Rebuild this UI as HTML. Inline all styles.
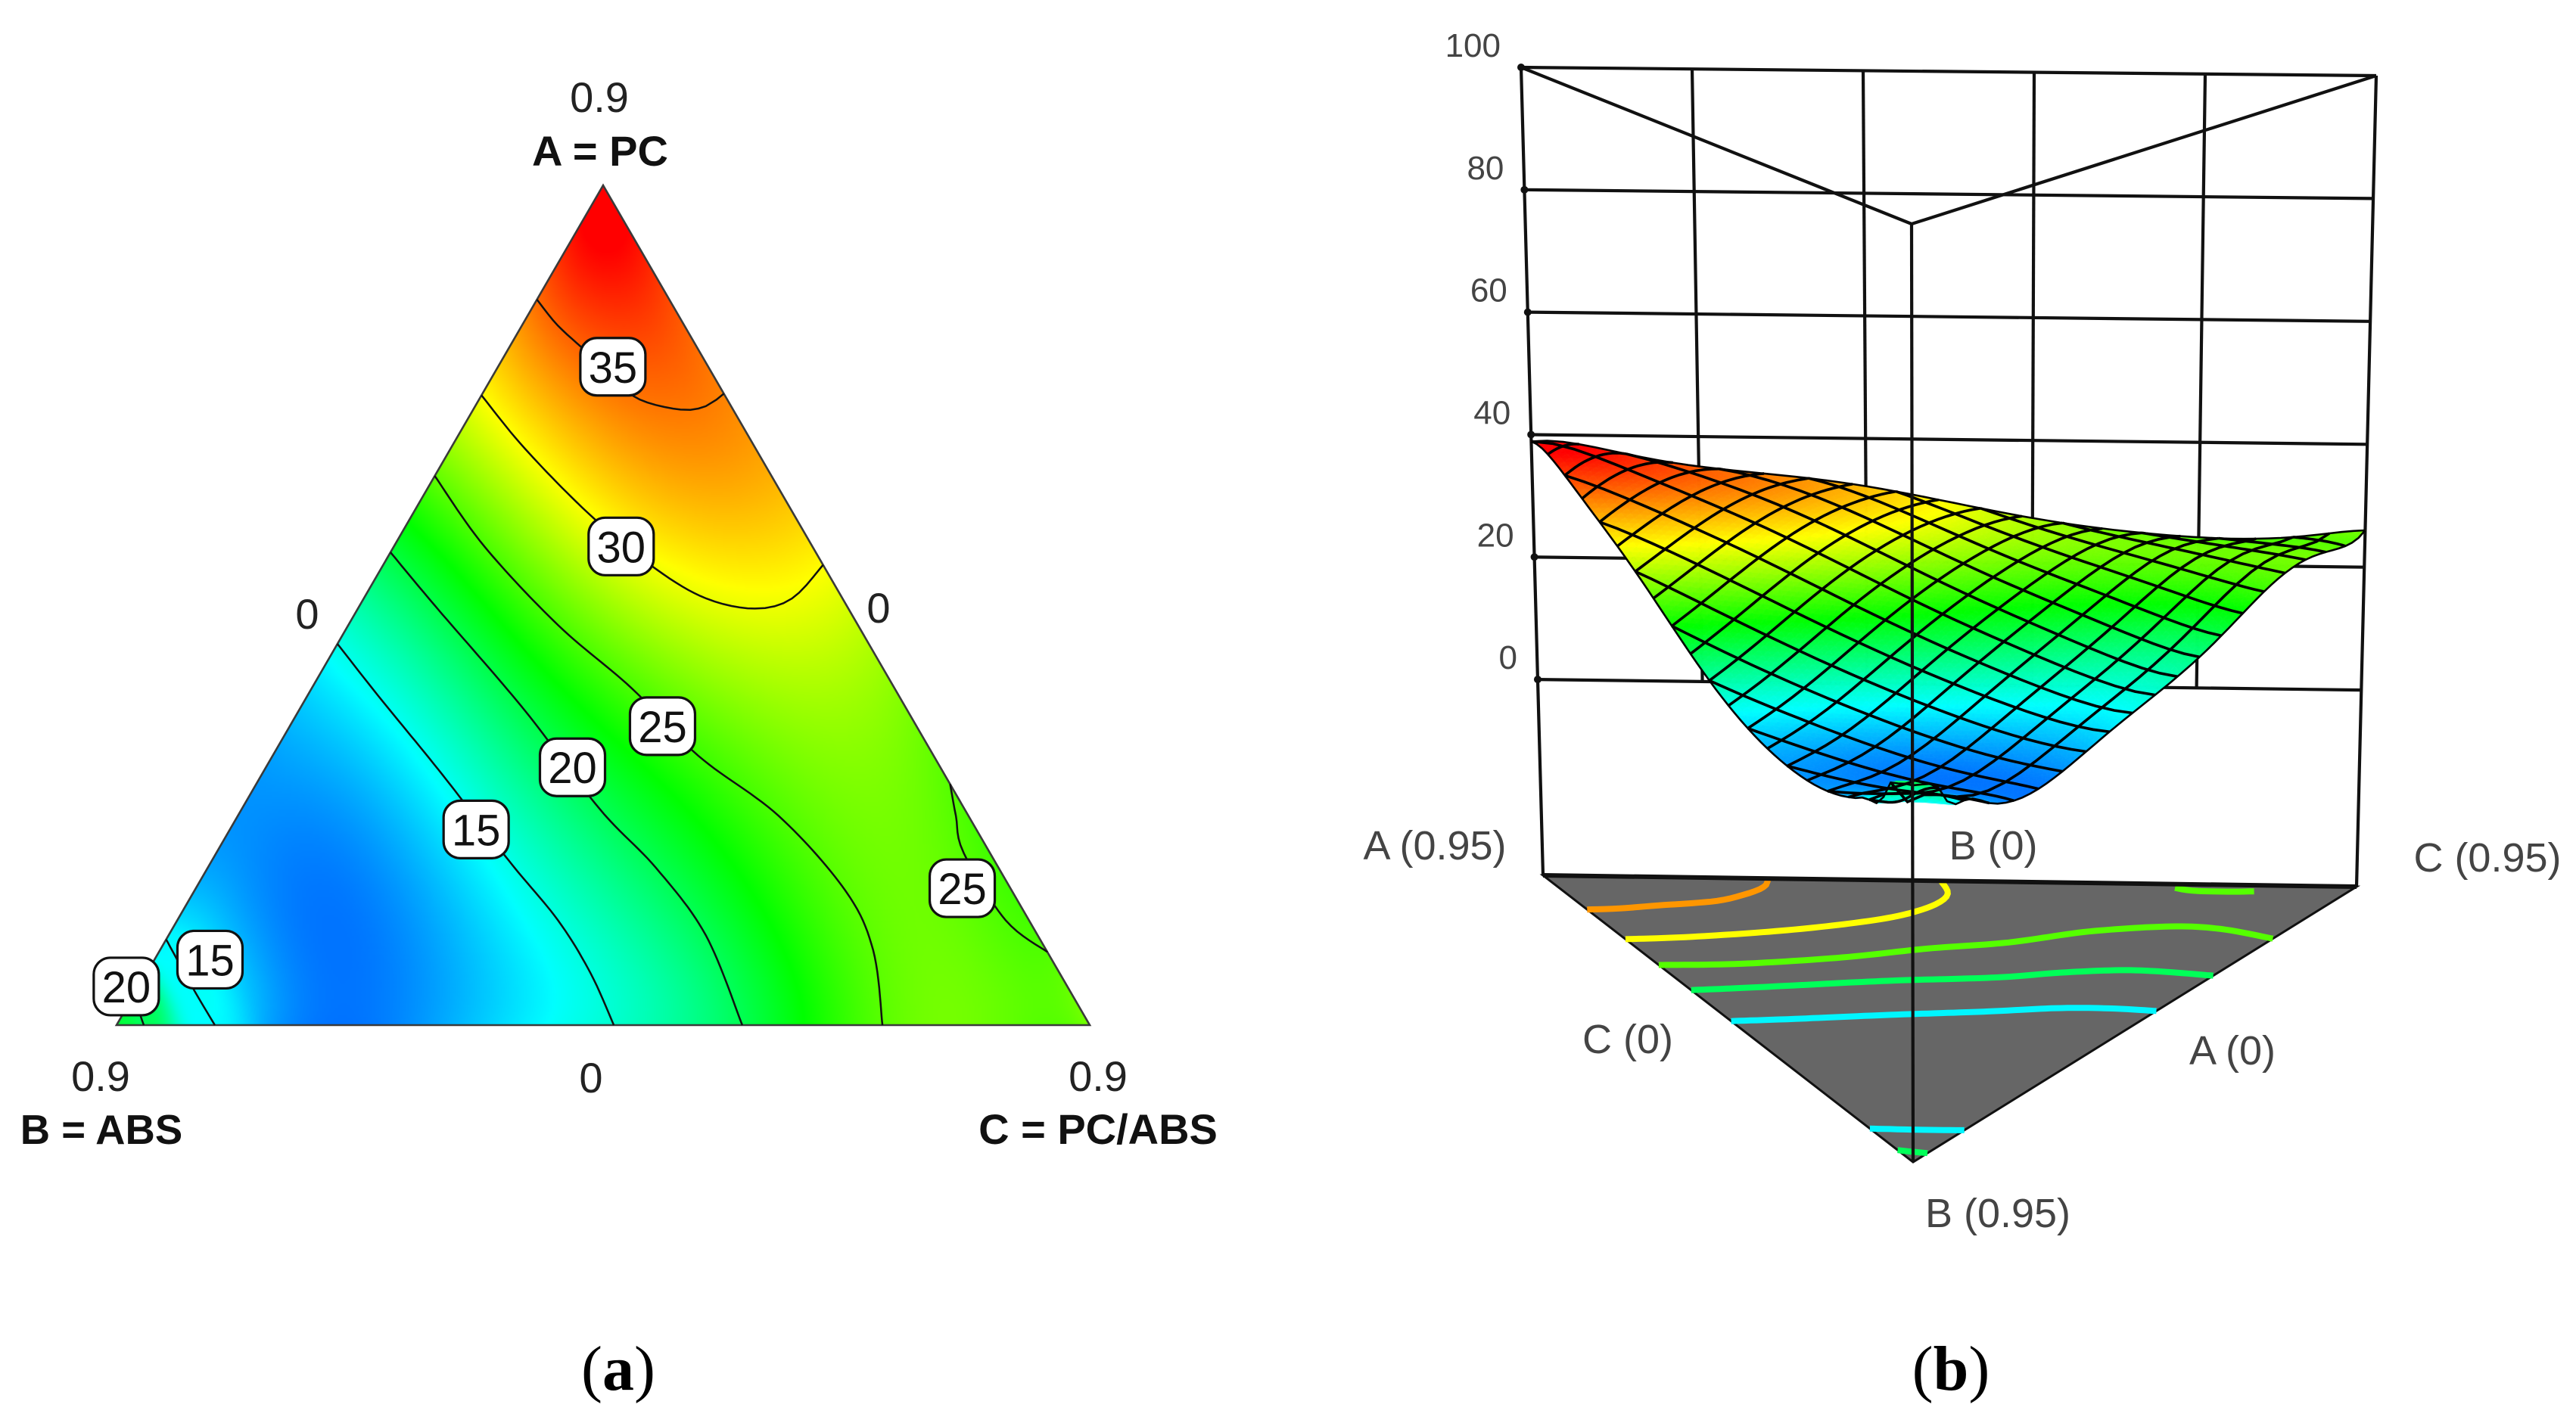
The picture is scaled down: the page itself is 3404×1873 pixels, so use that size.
<!DOCTYPE html>
<html lang="en">
<head>
<meta charset="utf-8">
<title>Ternary contour plot and 3D response surface</title>
<style>
  html,body{margin:0;padding:0;background:#fff;}
  #page{position:relative;width:3404px;height:1873px;background:#fff;overflow:hidden;font-family:"Liberation Sans",sans-serif;}
  #page>svg,#page>canvas{position:absolute;left:0;top:0;}
</style>
</head>
<body>
<div id="page">
  <svg id="back" width="3404" height="1873"></svg>
  <canvas id="paint" width="3404" height="1873"></canvas>
  <svg id="front" width="3404" height="1873"></svg>
</div>
<script>
// Contour levels and traces, as [A share, C share] of the ternary axes (B = 1 - A - C)
const contourLevels = [35, 30, 25, 20, 15, 15, 20, 25];
const contour35 = [[.864,0],[.833,.037],[.801,.083],[.770,.125],[.745,.165],[.733,.213],[.737,.237],[.752,.248]];
const contour30 = [[.750,0],[.686,.077],[.606,.185],[.543,.283],[.508,.352],[.496,.408],[.508,.440],[.548,.452]];
const contour25 = [[.654,0],[.570,.093],[.476,.216],[.401,.329],[.321,.437],[.249,.556],[.160,.669],[.089,.733],[0,.787]];
const contour20 = [[.563,0],[.499,.078],[.374,.233],[.258,.367],[.187,.461],[.107,.552],[0,.643]];
const contour15 = [[.454,0],[.392,.073],[.298,.186],[.196,.305],[.125,.391],[.062,.456],[0,.511]];
const contour15Corner = [[.102,0],[.0445,.056],[0,.101]];
const contour20Corner = [[.036,0],[.02,.012],[0,.028]];
const contour25Side = [[.287,.713],[.249,.738],[.205,.768],[.125,.851],[.087,.913]];
const contourTraces = [contour35, contour30, contour25, contour20, contour15, contour15Corner, contour20Corner, contour25Side];

// Read response values away from contours, as [A share, C share, response]
const troughFloor = [[.307,.009,12],[.214,.098,10.8],[.107,.190,10.1],[0,.2766,10.1]];
const troughEdge = [[.307,.009,12],[.205,.005,12.4],[.14,.002,14]];
const ridgeRight = [[.401,.523,27.5],[.285,.657,26.4],[.151,.757,26],[0,.867,25.8]];
const sliverRight = [[.25,.75,24.6],[.196,.804,24],[.13,.87,24.4]];
const cornerC = [[.06,.94,25.4],[0,1,25.5]];
const cornerB = [[.02,0,20.6],[0,0,21],[0,.012,20.6]];
const peakA = [[1,0,39],[.9,.05,38.5],[.82,.12,36.5]];
const orangeBand = [[.72,.12,33.5],[.641,.302,33],[.6,.38,32]];
const responseGuides = [troughFloor, troughEdge, ridgeRight, sliverRight, cornerC, cornerB, peakA, orangeBand];

// Colour scale
const scaleValues = [8, 15.25, 22.5, 30, 38.5];
const scaleColors = [[0,0,255],[0,255,255],[0,255,0],[255,255,0],[255,0,0]];

// Contour label tags: printed text and [A share, C share]
const tagTexts = ["35","30","25","20","15","25","15","20"];
const tagSpots = [[.784,.118],[.570,.2335],[.356,.383],[.307,.315],[.233,.253],[.163,.7875],[.078,.057],[.046,-.013]];

// Surface plot axis
const zTicks = [0,20,40,60,80,100];
const wallDivisions = [.2,.4,.6,.8];
const meshDivisions = 20;

// ---------- scales ----------
const TRI = {ax:797, ay:245, lx:154, rx:1440, by:1355};
function triX(a,c){ return TRI.lx + a*(TRI.ax-TRI.lx) + c*(TRI.rx-TRI.lx); }
function triY(a){ return TRI.by - a*(TRI.by-TRI.ay); }

const BOX = {
  floorA:[2039,1157], floorB:[2528,1536], floorC:[3114,1172],
  topA:[2010,89], topB:[2526,296], topC:[3140,100],
  wB:0.86, zFloor:-32, zTop:100, skew:0.15
};
function project(a0,c0,z,plain){
  const d=plain?0:BOX.skew*a0*c0;
  const a=a0-d, c=c0+d;
  const b = 1-a-c;
  const wa=a, wb=b*BOX.wB, wc=c, s=wa+wb+wc;
  const fx=(wa*BOX.floorA[0]+wb*BOX.floorB[0]+wc*BOX.floorC[0])/s;
  const fy=(wa*BOX.floorA[1]+wb*BOX.floorB[1]+wc*BOX.floorC[1])/s;
  const tx=(wa*BOX.topA[0]+wb*BOX.topB[0]+wc*BOX.topC[0])/s;
  const ty=(wa*BOX.topA[1]+wb*BOX.topB[1]+wc*BOX.topC[1])/s;
  const t=(z-BOX.zFloor)/(BOX.zTop-BOX.zFloor);
  return [fx+(tx-fx)*t, fy+(ty-fy)*t];
}
function colorOf(v){
  const s=scaleValues, k=scaleColors;
  if(v<=s[0]) return k[0];
  for(let i=1;i<s.length;i++){
    if(v<=s[i]){
      const t=(v-s[i-1])/(s[i]-s[i-1]);
      return [0,1,2].map(n=>Math.round(k[i-1][n]+(k[i][n]-k[i-1][n])*t));
    }
  }
  return k[k.length-1];
}
function cssColor(c){ return "rgb("+c[0]+","+c[1]+","+c[2]+")"; }

// ---------- field built from the read traces ----------
function dense(points, spacing){
  const out=[];
  const n=points.length;
  if(n===1){ out.push(points[0].slice()); return out; }
  for(let i=0;i<n-1;i++){
    const p0=points[Math.max(i-1,0)],p1=points[i],p2=points[i+1],p3=points[Math.min(i+2,n-1)];
    const len=Math.hypot(p2[0]-p1[0],p2[1]-p1[1]);
    const steps=Math.max(1,Math.ceil(len/spacing));
    for(let s=0;s<steps;s++){
      const t=s/steps,t2=t*t,t3=t2*t;
      out.push(p1.map((_,d)=>0.5*(2*p1[d]+(p2[d]-p0[d])*t+(2*p0[d]-5*p1[d]+4*p2[d]-p3[d])*t2+(3*p1[d]-p0[d]-3*p2[d]+p3[d])*t3)));
    }
  }
  out.push(points[n-1].slice());
  return out;
}
const fieldPts=[];
contourTraces.forEach(function(tr,i){
  dense(tr,0.014).forEach(function(p){ fieldPts.push([p[0],p[1],contourLevels[i]]); });
});
responseGuides.forEach(function(tr){
  dense(tr,0.014).forEach(function(p){ fieldPts.push(p); });
});
const FN=fieldPts.length;
const FX=new Float64Array(FN),FY=new Float64Array(FN),FV=new Float64Array(FN);
fieldPts.forEach(function(p,i){ FX[i]=p[1]+p[0]/2; FY[i]=p[0]*0.866; FV[i]=p[2]; });
function rawField(a,c){
  const x=c+a/2,y=a*0.866;
  let sw=0,sv=0;
  for(let i=0;i<FN;i++){
    const dx=x-FX[i],dy=y-FY[i],d2=dx*dx+dy*dy;
    if(d2<1e-8) return FV[i];
    const w=1/(d2*Math.sqrt(d2));
    sw+=w; sv+=w*FV[i];
  }
  return sv/sw;
}
// Least-squares polynomial over the triangle, the smooth model surface
const DEG=8;
const NT=(DEG+1)*(DEG+2)/2;
const txb=new Float64Array(DEG+1),tyb=new Float64Array(DEG+1);
function basis(a,c,out){
  const x=2*a-1,y=2*c-1;
  txb[0]=1;txb[1]=x;tyb[0]=1;tyb[1]=y;
  for(let n=2;n<=DEG;n++){ txb[n]=2*x*txb[n-1]-txb[n-2]; tyb[n]=2*y*tyb[n-1]-tyb[n-2]; }
  let k=0;
  for(let i=0;i<=DEG;i++){ for(let j=0;j<=DEG-i;j++){ out[k++]=txb[i]*tyb[j]; } }
}
const coef=(function(){
  const M=[];
  for(let i=0;i<NT;i++){ M[i]=new Float64Array(NT+1); }
  const phi=new Float64Array(NT);
  const G=48;
  for(let i=0;i<=G;i++){
    for(let j=0;j<=G-i;j++){
      const a=i/G,c=j/G,v=rawField(a,c);
      basis(a,c,phi);
      for(let r=0;r<NT;r++){
        const pr=phi[r],row=M[r];
        for(let q=0;q<NT;q++){ row[q]+=pr*phi[q]; }
        row[NT]+=pr*v;
      }
    }
  }
  for(let r=0;r<NT;r++){ M[r][r]+=1e-4; }
  for(let p=0;p<NT;p++){
    let best=p;
    for(let r=p+1;r<NT;r++){ if(Math.abs(M[r][p])>Math.abs(M[best][p])) best=r; }
    const tmp=M[p];M[p]=M[best];M[best]=tmp;
    for(let r=p+1;r<NT;r++){
      const f=M[r][p]/M[p][p];
      if(f!==0){ for(let q=p;q<=NT;q++){ M[r][q]-=f*M[p][q]; } }
    }
  }
  const x=new Float64Array(NT);
  for(let r=NT-1;r>=0;r--){
    let s=M[r][NT];
    for(let q=r+1;q<NT;q++){ s-=M[r][q]*x[q]; }
    x[r]=s/M[r][r];
  }
  return x;
})();
const phiEval=new Float64Array(NT);
function field(a,c){
  basis(a,c,phiEval);
  let s=0;
  for(let k=0;k<NT;k++){ s+=coef[k]*phiEval[k]; }
  const b=1-a-c;
  if(b<=.84) return s;
  let t=Math.min(1,(b-.84)/.09);
  t=t*t*(3-2*t);
  return s+(rawField(a,c)-s)*t;
}

// ---------- paint: ternary heatmap ----------
const paint=document.getElementById("paint").getContext("2d");
(function(){
  const step=3;
  const x0=TRI.lx-6,y0=TRI.ay-6;
  const w=Math.ceil((TRI.rx-TRI.lx+12)/step),h=Math.ceil((TRI.by-TRI.ay+12)/step);
  const off=document.createElement("canvas");
  off.width=w;off.height=h;
  const oc=off.getContext("2d");
  const img=oc.createImageData(w,h);
  for(let j=0;j<h;j++){
    const py=y0+(j+.5)*step;
    const a=(TRI.by-py)/(TRI.by-TRI.ay);
    for(let i=0;i<w;i++){
      const px=x0+(i+.5)*step;
      const c=(px-TRI.lx-a*(TRI.ax-TRI.lx))/(TRI.rx-TRI.lx);
      if(a<-.02||c<-.02||a+c>1.02) continue;
      const col=colorOf(field(a,c));
      const k=(j*w+i)*4;
      img.data[k]=col[0];img.data[k+1]=col[1];img.data[k+2]=col[2];img.data[k+3]=255;
    }
  }
  oc.putImageData(img,0,0);
  paint.save();
  paint.beginPath();
  paint.moveTo(TRI.ax,TRI.ay);paint.lineTo(TRI.rx,TRI.by);paint.lineTo(TRI.lx,TRI.by);paint.closePath();
  paint.clip();
  paint.imageSmoothingEnabled=true;
  paint.drawImage(off,x0,y0,w*step,h*step);
  paint.restore();
})();

// ---------- paint: 3D surface ----------
const T=100;
const heights=[];
for(let i=0;i<=T;i++){
  heights[i]=[];
  for(let j=0;j<=T-i;j++){ heights[i][j]=field(i/T,j/T); }
}
function fillTri(p,q,r,v){
  const col=cssColor(colorOf(v));
  paint.fillStyle=col;paint.strokeStyle=col;paint.lineWidth=1;
  paint.beginPath();paint.moveTo(p[0],p[1]);paint.lineTo(q[0],q[1]);paint.lineTo(r[0],r[1]);paint.closePath();
  paint.fill();paint.stroke();
}
for(let sum=T;sum>=0;sum--){
  for(let i=0;i<=sum;i++){
    const j=sum-i;
    if(i+j+1<=T){
      const h1=heights[i][j],h2=heights[i+1][j],h3=heights[i][j+1];
      fillTri(project(i/T,j/T,h1),project((i+1)/T,j/T,h2),project(i/T,(j+1)/T,h3),(h1+h2+h3)/3);
    }
    if(i+j+2<=T){
      const h2=heights[i+1][j],h3=heights[i][j+1],h4=heights[i+1][j+1];
      fillTri(project((i+1)/T,j/T,h2),project(i/T,(j+1)/T,h3),project((i+1)/T,(j+1)/T,h4),(h2+h3+h4)/3);
    }
  }
}

// ---------- svg helpers ----------
const NS="http://www.w3.org/2000/svg";
function mk(parent,tag,attrs){
  const el=document.createElementNS(NS,tag);
  for(const k in attrs){ el.setAttribute(k,attrs[k]); }
  parent.appendChild(el);
  return el;
}
function pathOf(pts,close){
  return "M"+pts.map(p=>p[0].toFixed(1)+" "+p[1].toFixed(1)).join("L")+(close?"Z":"");
}
const back=document.getElementById("back"), front=document.getElementById("front");

// ---------- surface plot frame (behind the surface) ----------
const FLOOR_Z=BOX.zFloor;
const floorEl=mk(back,"path",{d:pathOf([project(1,0,FLOOR_Z),project(0,1,FLOOR_Z),project(0,0,FLOOR_Z)],true),fill:"#666666",stroke:"#111",'stroke-width':3});


contourTraces.forEach(function(tr,i){
  let pts=dense(tr,0.01);
  if(tr===contour25Side){ pts=pts.slice(Math.floor(pts.length*.2),Math.floor(pts.length*.72)); }
  pts=pts.map(p=>project(p[0],p[1],FLOOR_Z));
  const lvl=contourLevels[i];
  const f=mk(back,"path",{d:pathOf(pts),fill:"none",stroke:cssColor(colorOf(lvl>=33?lvl-1.5:lvl)),'stroke-width':8});
  
  
});
const floorBack=mk(back,"path",{d:pathOf([project(1,0,FLOOR_Z),project(0,1,FLOOR_Z)]),fill:"none",stroke:"#111",'stroke-width':6});


const wallColor="#111";
[[1,0],[0,1]].forEach(function(q){
  const e=mk(back,"path",{d:pathOf([project(q[0],q[1],BOX.zTop),project(q[0],q[1],FLOOR_Z)]),fill:"none",stroke:wallColor,'stroke-width':4.2});
  
  
});
wallDivisions.forEach(function(c){
  const e=mk(back,"path",{d:pathOf([project(1-c,c,BOX.zTop,true),project(1-c,c,zTicks[0],true)]),fill:"none",stroke:wallColor,'stroke-width':4.2});
  
  
});
zTicks.forEach(function(z){
  const l=project(1,0,z), r=project(0,1,z);
  const e=mk(back,"path",{d:pathOf([l,r]),fill:"none",stroke:wallColor,'stroke-width':4.2});
  
  
  const dot=mk(back,"circle",{cx:l[0],cy:l[1],r:5,fill:"#111"});
  
  
  const t=mk(back,"text",{x:l[0]-27,y:l[1]-14,'text-anchor':"end",'font-size':44,fill:"#444"});
  t.textContent=String(z);
  
  
});
const vee=mk(back,"path",{d:pathOf([project(1,0,BOX.zTop),project(0,0,BOX.zTop),project(0,1,BOX.zTop)]),fill:"none",stroke:wallColor,'stroke-width':4.2});



// ---------- surface mesh ----------
const gridG=mk(front,"g",{fill:"none",stroke:"#000",'stroke-width':3.6});


function surfacePoint(a,c){ return project(a,c,field(a,c)); }
for(let i=1;i<meshDivisions;i++){
  const a=i/meshDivisions, pts=[];
  for(let s=0;s<=30;s++){ const c=(1-a)*s/30; pts.push(surfacePoint(a,c)); }
  const e=mk(gridG,"path",{d:pathOf(pts)});
  
  
}
for(let j=1;j<meshDivisions;j++){
  const x=j/meshDivisions, amax=x<=.5?2*x:2*(1-x), pts=[];
  for(let s=0;s<=30;s++){ const a=amax*s/30; pts.push(surfacePoint(a,x-a/2)); }
  const e=mk(gridG,"path",{d:pathOf(pts)});
  
  
}
[[1,0,0,0],[0,0,0,1],[0,1,1,0]].forEach(function(q){
  const pts=[];
  for(let s=0;s<=60;s++){ const t=s/60; pts.push(surfacePoint(q[0]+(q[2]-q[0])*t,q[1]+(q[3]-q[1])*t)); }
  const e=mk(gridG,"path",{d:pathOf(pts),'stroke-width':2.6});
  
  
});
const centerLine=mk(front,"path",{d:pathOf([project(0,0,BOX.zTop),project(0,0,FLOOR_Z)]),fill:"none",stroke:"#111",'stroke-width':4.2});



// ---------- ternary contour overlay ----------
const tri=mk(front,"path",{d:pathOf([[TRI.ax,TRI.ay],[TRI.rx,TRI.by],[TRI.lx,TRI.by]],true),fill:"none",stroke:"#3a3a3a",'stroke-width':2.6});


contourTraces.forEach(function(tr,i){
  const pts=dense(tr,0.01).map(p=>[triX(p[0],p[1]),triY(p[0])]);
  const e=mk(front,"path",{d:pathOf(pts),fill:"none",stroke:"#111",'stroke-width':2.5});
  
  
});
tagTexts.forEach(function(txt,i){
  const cx=triX(tagSpots[i][0],tagSpots[i][1]), cy=triY(tagSpots[i][0]);
  const r=mk(front,"rect",{x:cx-43,y:cy-38,width:86,height:76,rx:22,ry:22,fill:"#fff",stroke:"#111",'stroke-width':3.2});
  
  
  const t=mk(front,"text",{x:cx,y:cy+21,'text-anchor':"middle",'font-size':58,fill:"#111"});
  t.textContent=txt;
  
  
});

// ---------- static text ----------
const ternaryText=[
  ["0.9",792,148,56,"400","#222","middle","apex-a-max"],
  ["A = PC",793,219,56,"700","#111","middle","apex-a-title"],
  ["0",406,831,56,"400","#222","middle","a-edge-zero"],
  ["0",1161,823,56,"400","#222","middle","c-edge-zero"],
  ["0.9",133,1442,56,"400","#222","middle","corner-b-max"],
  ["B = ABS",134,1512,54.5,"700","#111","middle","corner-b-title"],
  ["0",781,1444,56,"400","#222","middle","base-zero"],
  ["0.9",1451,1442,56,"400","#222","middle","corner-c-max"],
  ["C = PC/ABS",1451,1512,56,"700","#111","middle","corner-c-title"],
  ["A (0.95)",1896,1136,54,"400","#444","middle","corner-label-a-high"],
  ["B (0)",2634,1136,54,"400","#444","middle","corner-label-b-low"],
  ["C (0.95)",3287,1152,54,"400","#444","middle","corner-label-c-high"],
  ["C (0)",2151,1392,54,"400","#444","middle","corner-label-c-low"],
  ["A (0)",2950,1407,54,"400","#444","middle","corner-label-a-low"],
  ["B (0.95)",2640,1622,54,"400","#444","middle","corner-label-b-high"]
];
ternaryText.forEach(function(d){
  const t=mk(front,"text",{x:d[1],y:d[2],'font-size':d[3],'font-weight':d[4],fill:d[5],'text-anchor':d[6]});
  t.textContent=d[0];
  
  
});
[["a",817,"panel-label-a"],["b",2578,"panel-label-b"]].forEach(function(d){
  const t=mk(front,"text",{x:d[1],y:1837,'font-size':84,'text-anchor':"middle",fill:"#000",style:'font-family:"Liberation Serif",serif'});
  const o=mk(t,"tspan",{});o.textContent="(";
  const m=mk(t,"tspan",{'font-weight':"700"});m.textContent=d[0];
  const c=mk(t,"tspan",{});c.textContent=")";
  
  
});
</script>
</body>
</html>
